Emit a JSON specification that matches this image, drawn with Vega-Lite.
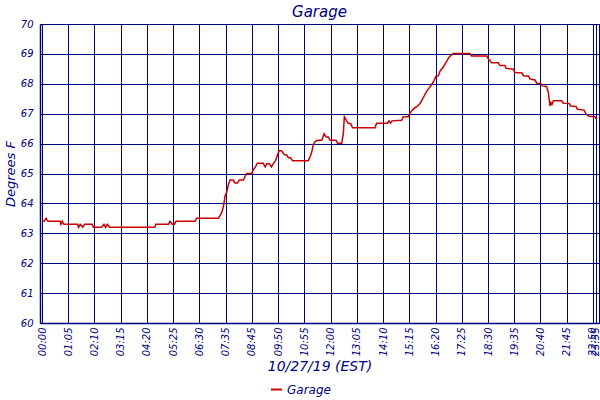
{
  "$schema": "https://vega.github.io/schema/vega-lite/v6.json",
  "width": 559,
  "height": 299,
  "autosize": "none",
  "padding": {"left": 40, "top": 24, "right": 1, "bottom": 77},
  "background": "white",
  "title": {
    "text": "Garage",
    "font": "DejaVu Sans",
    "fontStyle": "italic",
    "fontWeight": "normal",
    "fontSize": 15,
    "color": "#000080",
    "offset": 0,
    "dy": 1
  },
  "config": {
    "view": {"stroke": "#000080", "strokeWidth": 1},
    "axis": {
      "labelFont": "DejaVu Sans",
      "labelFontStyle": "italic",
      "labelColor": "#000080",
      "titleFont": "DejaVu Sans",
      "titleFontStyle": "italic",
      "titleFontWeight": "normal",
      "titleColor": "#000080",
      "gridColor": "#000080",
      "gridOpacity": 1,
      "gridWidth": 1,
      "domainColor": "#000080",
      "domainWidth": 1.5,
      "ticks": false
    }
  },
  "data": {
    "values": [
      {"i": 0, "v": 63.4}, {"i": 1, "v": 63.4}, {"i": 2, "v": 63.5}, {"i": 3, "v": 63.4},
      {"i": 9, "v": 63.4}, {"i": 9.4, "v": 63.3}, {"i": 10, "v": 63.4}, {"i": 10.8, "v": 63.3},
      {"i": 17.6, "v": 63.3}, {"i": 18.1, "v": 63.2}, {"i": 18.9, "v": 63.3}, {"i": 20.2, "v": 63.2},
      {"i": 21.1, "v": 63.3}, {"i": 24.9, "v": 63.3}, {"i": 25.4, "v": 63.2}, {"i": 29.5, "v": 63.2},
      {"i": 30.7, "v": 63.3}, {"i": 31.5, "v": 63.2}, {"i": 32.3, "v": 63.3}, {"i": 33.6, "v": 63.2},
      {"i": 55.9, "v": 63.2}, {"i": 56.4, "v": 63.3}, {"i": 62.6, "v": 63.3}, {"i": 63.4, "v": 63.4},
      {"i": 64.6, "v": 63.3}, {"i": 65.6, "v": 63.3}, {"i": 66.4, "v": 63.4}, {"i": 75.8, "v": 63.4},
      {"i": 76.6, "v": 63.5}, {"i": 87.4, "v": 63.5}, {"i": 89.1, "v": 63.7}, {"i": 89.9, "v": 63.9},
      {"i": 90.7, "v": 64.25}, {"i": 91.5, "v": 64.37}, {"i": 92.4, "v": 64.64}, {"i": 93.2, "v": 64.78},
      {"i": 94.8, "v": 64.78}, {"i": 95.6, "v": 64.68}, {"i": 96.8, "v": 64.68}, {"i": 97.8, "v": 64.78},
      {"i": 99.8, "v": 64.78}, {"i": 100.6, "v": 64.9}, {"i": 101.4, "v": 65.0}, {"i": 103.9, "v": 65.0},
      {"i": 104.7, "v": 65.12}, {"i": 105.8, "v": 65.23}, {"i": 106.7, "v": 65.34}, {"i": 109.6, "v": 65.34},
      {"i": 110.6, "v": 65.22}, {"i": 111.4, "v": 65.33}, {"i": 112.7, "v": 65.33}, {"i": 113.7, "v": 65.22},
      {"i": 114.6, "v": 65.33}, {"i": 115.8, "v": 65.44}, {"i": 116.8, "v": 65.64}, {"i": 117.6, "v": 65.76},
      {"i": 118.7, "v": 65.76}, {"i": 119.9, "v": 65.64}, {"i": 121.2, "v": 65.62}, {"i": 122.1, "v": 65.53},
      {"i": 123.2, "v": 65.53}, {"i": 124.1, "v": 65.43}, {"i": 131.9, "v": 65.43}, {"i": 132.7, "v": 65.53},
      {"i": 133.6, "v": 65.7}, {"i": 134.4, "v": 65.96}, {"i": 135.2, "v": 66.06}, {"i": 136.4, "v": 66.11},
      {"i": 138.6, "v": 66.11}, {"i": 139.8, "v": 66.33}, {"i": 140.8, "v": 66.22}, {"i": 141.9, "v": 66.22},
      {"i": 142.7, "v": 66.11}, {"i": 145.7, "v": 66.11}, {"i": 146.5, "v": 66.01}, {"i": 148.5, "v": 66.01},
      {"i": 149.3, "v": 66.33}, {"i": 149.8, "v": 66.9}, {"i": 150.9, "v": 66.76}, {"i": 151.7, "v": 66.68},
      {"i": 152.9, "v": 66.67}, {"i": 153.9, "v": 66.53}, {"i": 165.0, "v": 66.53}, {"i": 165.8, "v": 66.68},
      {"i": 171.1, "v": 66.68}, {"i": 171.9, "v": 66.76}, {"i": 172.7, "v": 66.68}, {"i": 173.5, "v": 66.76},
      {"i": 178.2, "v": 66.78}, {"i": 179.0, "v": 66.9}, {"i": 181.5, "v": 66.9}, {"i": 182.3, "v": 67.01},
      {"i": 183.5, "v": 67.12}, {"i": 184.8, "v": 67.2}, {"i": 185.9, "v": 67.24}, {"i": 187.4, "v": 67.35},
      {"i": 188.5, "v": 67.48}, {"i": 189.8, "v": 67.65}, {"i": 191.0, "v": 67.79}, {"i": 192.3, "v": 67.9},
      {"i": 193.4, "v": 68.01}, {"i": 194.2, "v": 68.1}, {"i": 195.1, "v": 68.24}, {"i": 196.4, "v": 68.27},
      {"i": 197.2, "v": 68.42}, {"i": 198.4, "v": 68.52}, {"i": 199.7, "v": 68.66}, {"i": 200.5, "v": 68.75},
      {"i": 201.7, "v": 68.89}, {"i": 202.5, "v": 68.94}, {"i": 203.8, "v": 69.01}, {"i": 212.0, "v": 69.01},
      {"i": 212.9, "v": 68.93}, {"i": 220.4, "v": 68.93}, {"i": 221.2, "v": 68.83}, {"i": 222.3, "v": 68.75},
      {"i": 222.8, "v": 68.7}, {"i": 226.1, "v": 68.7}, {"i": 226.9, "v": 68.61}, {"i": 229.4, "v": 68.61},
      {"i": 229.9, "v": 68.52}, {"i": 233.5, "v": 68.49}, {"i": 234.4, "v": 68.38}, {"i": 237.8, "v": 68.36},
      {"i": 238.6, "v": 68.27}, {"i": 241.1, "v": 68.25}, {"i": 241.9, "v": 68.16}, {"i": 244.3, "v": 68.13},
      {"i": 245.1, "v": 68.02}, {"i": 247.1, "v": 68.01}, {"i": 247.9, "v": 67.93}, {"i": 250.0, "v": 67.91},
      {"i": 250.9, "v": 67.71}, {"i": 251.7, "v": 67.26}, {"i": 252.2, "v": 67.37}, {"i": 252.7, "v": 67.31},
      {"i": 253.4, "v": 67.43}, {"i": 257.5, "v": 67.43}, {"i": 258.3, "v": 67.35}, {"i": 261.3, "v": 67.34},
      {"i": 261.9, "v": 67.26}, {"i": 264.6, "v": 67.24}, {"i": 265.3, "v": 67.15}, {"i": 268.6, "v": 67.12},
      {"i": 269.4, "v": 67.01}, {"i": 270.7, "v": 66.92}, {"i": 274.0, "v": 66.9}, {"i": 274.8, "v": 66.81}
    ]
  },
  "mark": {"type": "line", "strokeWidth": 1.5, "interpolate": "linear"},
  "encoding": {
    "x": {
      "field": "i",
      "type": "quantitative",
      "scale": {"domain": [-1, 276], "nice": false, "zero": false},
      "axis": {
        "title": "10/27/19 (EST)",
        "titleFontSize": 14,
        "titlePadding": 4,
        "labelFontSize": 10,
        "labelAngle": -90,
        "labelAlign": "right",
        "labelBaseline": "middle",
        "labelPadding": 4,
        "labelOverlap": false,
        "labelFlush": false,
        "values": [0, 13, 26, 39, 52, 65, 78, 91, 104, 117, 130, 143, 156, 169, 182, 195, 208, 221, 234, 247, 260, 273, 274.5],
        "labelExpr": "{'0':'00:00','13':'01:05','26':'02:10','39':'03:15','52':'04:20','65':'05:25','78':'06:30','91':'07:35','104':'08:45','117':'09:50','130':'10:55','143':'12:00','156':'13:05','169':'14:10','182':'15:15','195':'16:20','208':'17:25','221':'18:30','234':'19:35','247':'20:40','260':'21:45','273':'22:50','274.5':'23:55'}[datum.value]"
      }
    },
    "y": {
      "field": "v",
      "type": "quantitative",
      "scale": {"domain": [60, 70], "nice": false, "zero": false},
      "axis": {
        "title": "Degrees F",
        "titleFontSize": 13,
        "titlePadding": 3,
        "labelFontSize": 10,
        "labelPadding": 7,
        "values": [60, 61, 62, 63, 64, 65, 66, 67, 68, 69, 70],
        "format": "d"
      }
    },
    "color": {
      "datum": "Garage",
      "type": "nominal",
      "scale": {"range": ["#cc0000"]},
      "legend": {
        "title": null,
        "orient": "none",
        "legendX": 230,
        "legendY": 359,
        "direction": "horizontal",
        "symbolType": "stroke",
        "symbolStrokeWidth": 2,
        "symbolSize": 120,
        "labelFont": "DejaVu Sans",
        "labelFontStyle": "italic",
        "labelFontSize": 12,
        "labelColor": "#000080"
      }
    }
  }
}
